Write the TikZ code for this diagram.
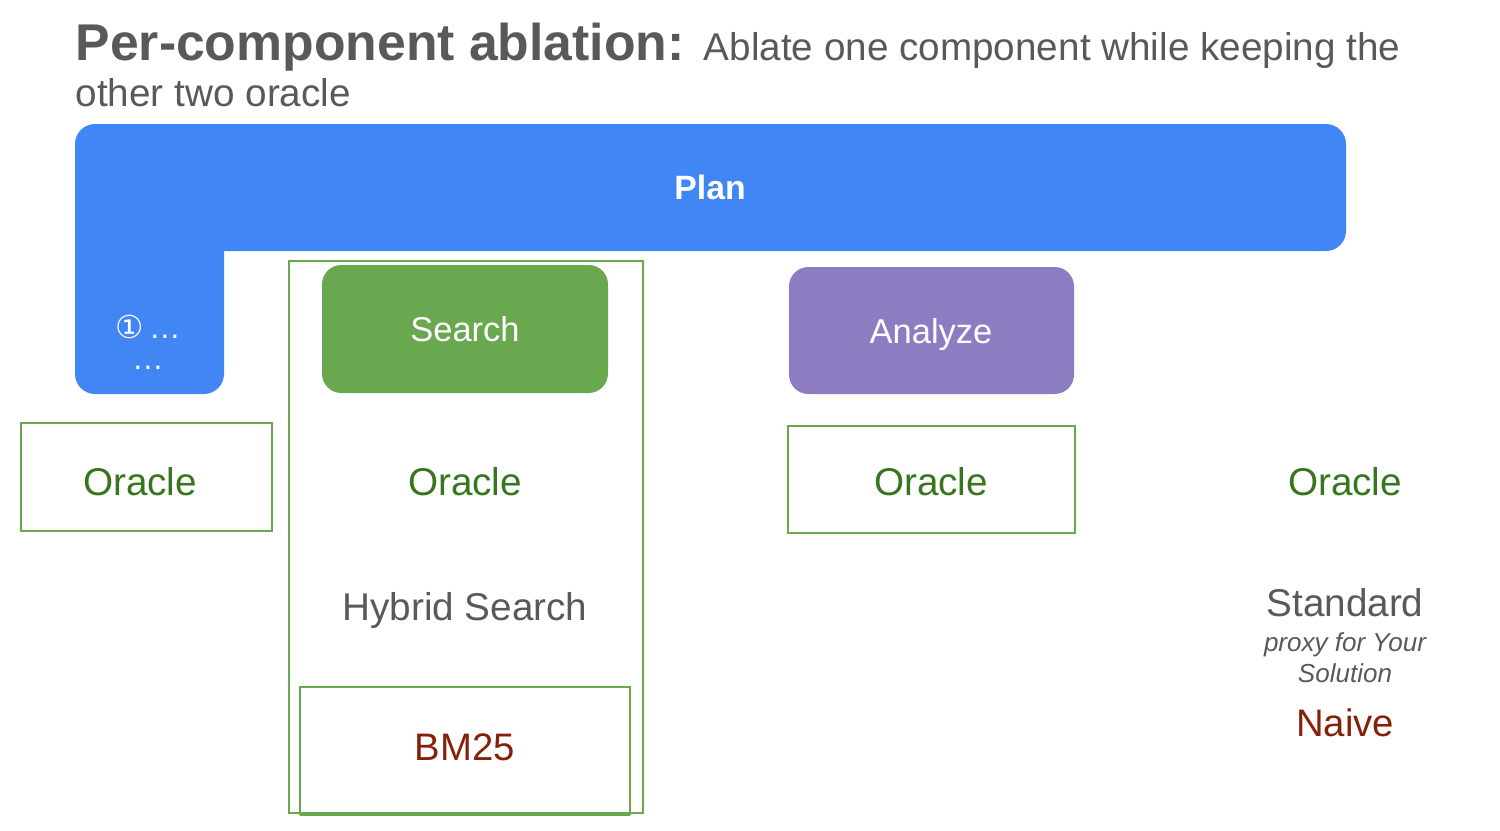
\documentclass[tikz,border=0pt]{standalone}
\usepackage{fontspec}
\setmainfont{Liberation Sans}
\newfontfamily\symfont{DejaVu Sans}
\definecolor{planblue}{HTML}{4285F4}
\definecolor{searchgreen}{HTML}{6AA84F}
\definecolor{analyzepurple}{HTML}{8E7CC3}
\definecolor{oraclegreen}{HTML}{38761D}
\definecolor{textgray}{HTML}{595959}
\definecolor{naivered}{HTML}{85200C}
\tikzset{
	stage/.style={rounded corners=5.5pt,text=white,font=\fontsize{9.8}{12}\selectfont},
	frame/.style={draw=searchgreen,line width=0.45pt},
	oracle/.style={text=oraclegreen,font=\fontsize{11}{13}\selectfont},
	method/.style={text=textgray,font=\fontsize{11}{13}\selectfont},
	naive/.style={text=naivered,font=\fontsize{10.9}{13}\selectfont}
}
\begin{document}
\begin{tikzpicture}[x=0.01cm,y=-0.01cm]
		\useasboundingbox(0,0)rectangle(1500,830);
		\node[anchor=base west,text=textgray,inner sep=0]at(75,60)(title){\fontsize{14.7}{16}\selectfont\bfseries Per-component ablation: \fontsize{11}{13}\mdseries Ablate one component while keeping the};
		\node[anchor=base west,text=textgray,inner sep=0,font=\fontsize{11}{13}\selectfont]at(75,106)(subtitle){other two oracle};
		\fill[planblue](224,251)[rounded corners=5.7pt]--(224,394)--(75,394)--(75,124)--(1346,124)--(1346,251)--(700,251)[sharp corners]--cycle;
		\node[text=white,font=\fontsize{9.6}{12}\selectfont\bfseries](plan)at(710,187){Plan};
		\node[text=white,font=\fontsize{9}{11}\selectfont](step1)at(148,327){{\symfont ①}\,\dots};
		\node[text=white,font=\fontsize{9}{11}\selectfont,inner sep=1pt](step2)at(148,368){\dots};
		\draw[frame](289,261)rectangle(643,813);
		\fill[stage,searchgreen](322,265)rectangle(608,393);
		\node[stage,anchor=base](search)at(465,341){Search};
		\fill[stage,analyzepurple](789,267)rectangle(1074,394);
		\node[stage,anchor=base](analyze)at(931,343){Analyze};
		\draw[frame](21,423)rectangle(272,531);
		\draw[frame](788,426)rectangle(1075,533);
		\draw[frame](300,687)rectangle(630,814);
		\draw[searchgreen,line width=0.9pt](300,814)--(630,814);
		\node[oracle,anchor=base](oracle1)at(140,495){Oracle};
		\node[oracle,anchor=base](oracle2)at(465,495){Oracle};
		\node[oracle,anchor=base](oracle3)at(931,495){Oracle};
		\node[oracle,anchor=base](oracle4)at(1345,495){Oracle};
		\node[method,anchor=base](hybrid)at(465,620){Hybrid Search};
		\node[naive,anchor=base](bm25)at(465,760){BM25};
		\node[method,anchor=base](standard)at(1345,616){Standard};
		\node[text=textgray,align=center,font=\fontsize{7.4}{8.8}\selectfont\itshape](proxy)at(1345,658){proxy for Your\\Solution};
		\node[naive,anchor=base](naive)at(1345,736){Naive};
	\end{tikzpicture}
\end{document}
